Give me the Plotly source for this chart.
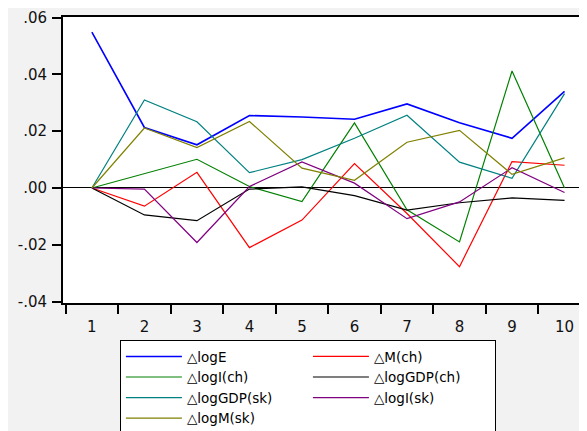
import plotly.graph_objects as go

periods = ["1", "2", "3", "4", "5", "6", "7", "8", "9", "10"]

logE = [0.0549, 0.0213, 0.0152, 0.0255, 0.0250, 0.0242, 0.0296, 0.0230, 0.0175, 0.0340]
M_ch = [0.0, -0.0064, 0.0055, -0.0210, -0.0113, 0.0086, -0.0090, -0.0277, 0.0093, 0.0080]
logI_ch = [0.0, 0.0050, 0.0101, 0.0005, -0.0048, 0.0229, -0.0077, -0.0190, 0.0412, 0.0]
logGDP_ch = [0.0, -0.0095, -0.0115, -0.0004, 0.0004, -0.0027, -0.0078, -0.0052, -0.0035, -0.0044]
logGDP_sk = [0.0, 0.0310, 0.0233, 0.0054, 0.0100, 0.0175, 0.0256, 0.0091, 0.0034, 0.0332]
logI_sk = [0.0, -0.0004, -0.0192, 0.0005, 0.0092, 0.0017, -0.0108, -0.0049, 0.0071, -0.0016]
logM_sk = [0.0, 0.0211, 0.0142, 0.0234, 0.0070, 0.0027, 0.0161, 0.0203, 0.0048, 0.0106]

series_names = ["△logE", "△M(ch)", "△logI(ch)", "△logGDP(ch)", "△logGDP(sk)", "△logI(sk)", "△logM(sk)"]
series_values = [logE, M_ch, logI_ch, logGDP_ch, logGDP_sk, logI_sk, logM_sk]
colors = ["#0000FF", "#FF0000", "#008000", "#000000", "#008080", "#800080", "#808000"]
widths = [1.6, 1.2, 1.2, 1.2, 1.2, 1.2, 1.2]

ytick_vals = [-0.04, -0.02, 0.0, 0.02, 0.04, 0.06]
ytick_text = ["-.04", "-.02", ".00", ".02", ".04", ".06"]

fig = go.Figure()
for name, vals, col, w in zip(series_names, series_values, colors, widths):
    fig.add_trace(go.Scatter(x=periods, y=vals, mode="lines", name=name,
                             line=dict(color=col, width=w)))

font_family = "DejaVu Sans, Verdana, sans-serif"
fig.update_layout(
    width=587, height=431,
    margin=dict(l=55, r=0, t=9, b=136, autoexpand=False),
    paper_bgcolor="#f2f2f2",
    plot_bgcolor="#ffffff",
    font=dict(family=font_family, size=15, color="#111111"),
    showlegend=True,
    legend=dict(
        orientation="h",
        x=0.107, xanchor="left",
        y=-0.13, yanchor="top",
        bgcolor="#ffffff",
        bordercolor="#000000",
        borderwidth=1,
        itemwidth=56,
        entrywidth=116,
        entrywidthmode="pixels",
        font=dict(family=font_family, size=13.5, color="#000000"),
        tracegroupgap=0,
    ),
    xaxis=dict(
        type="category",
        range=[-0.55, 9.58],
        tickson="boundaries",
        ticks="outside",
        ticklen=9,
        tickwidth=1.5,
        tickcolor="#000000",
        showline=True,
        linecolor="#000000",
        linewidth=2,
        mirror=True,
        showgrid=False,
        zeroline=False,
        automargin=False,
        ticklabelstandoff=9,
    ),
    yaxis=dict(
        range=[-0.0405, 0.0602],
        tickvals=ytick_vals,
        ticktext=ytick_text,
        ticks="outside",
        ticklen=9,
        tickwidth=1.5,
        tickcolor="#000000",
        showline=True,
        linecolor="#000000",
        linewidth=2,
        showgrid=False,
        zeroline=True,
        zerolinecolor="#000000",
        zerolinewidth=1,
        automargin=False,
        ticklabelstandoff=2,
    ),
)

fig.write_html("out.html")
